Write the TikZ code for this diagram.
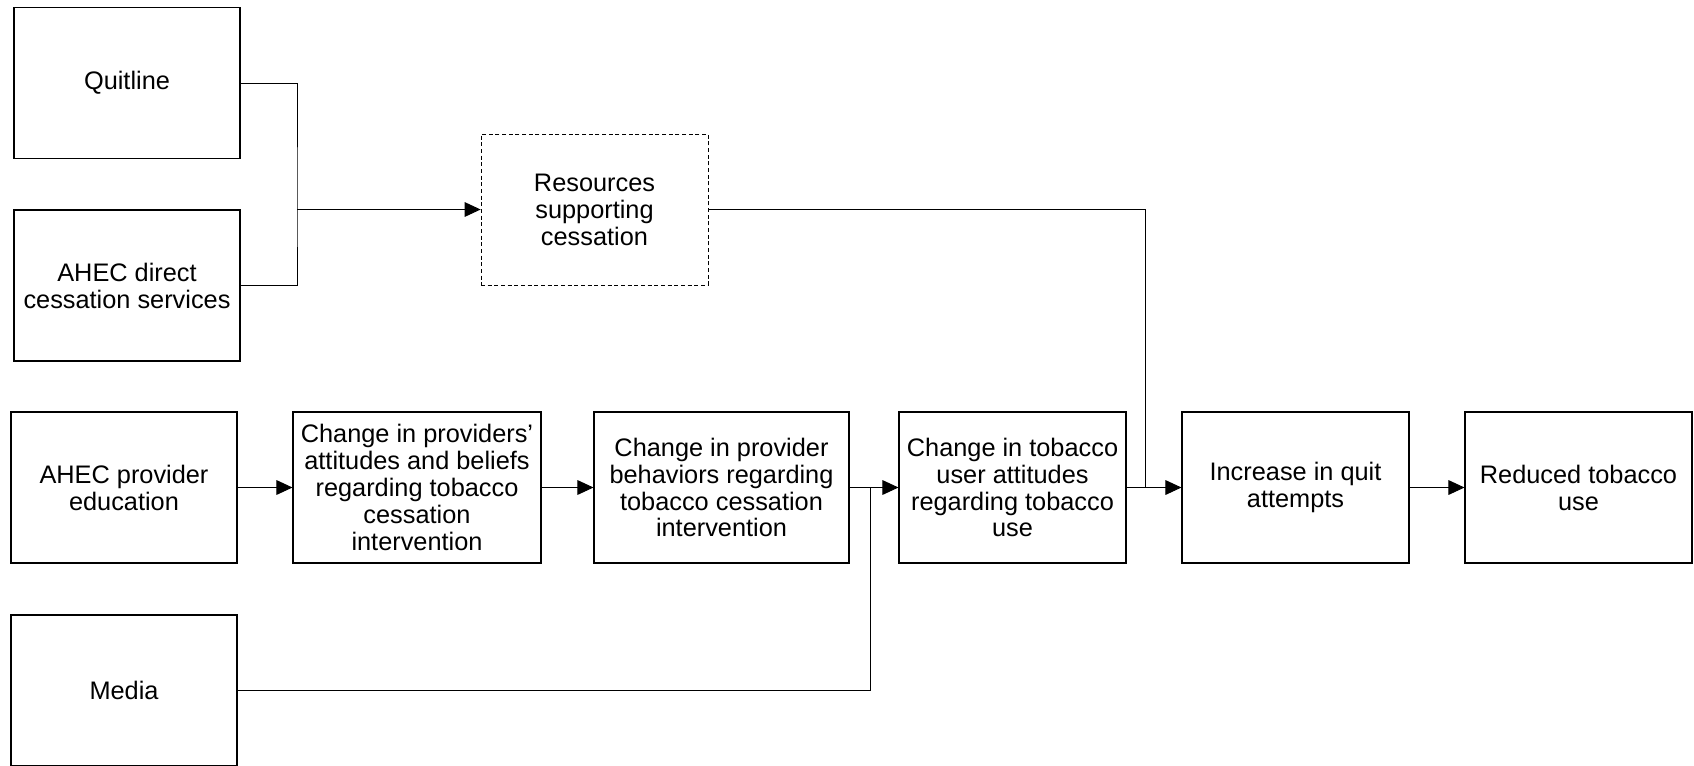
\documentclass[tikz,border=0pt]{standalone}
\usepackage{fontspec}
\setmainfont{Liberation Sans}
\usetikzlibrary{arrows.meta}
\tikzset{
	box/.style={draw,line width=0.8pt,align=center,inner sep=2pt,minimum width=#1*0.75pt,minimum height=151*0.75pt},
	box/.default=227,
	dbox/.style={box,dash pattern=on 3pt off 2pt,line width=0.6pt},
	link/.style={line width=0.75pt}
}
\begin{document}
\begin{tikzpicture}[>={Triangle[length=12pt,width=11pt]},x=0.75pt,y=-0.75pt,font=\fontsize{19}{20.2}\selectfont]
	\useasboundingbox (0,0) rectangle (1694,765);
	% sources
	\node[box=226] (quitline) at (127,83) {Quitline};
	\node[box=226] (direct) at (127,285.5) {AHEC direct\\cessation services};
	\node[dbox] (resources) at (594.5,209.5) {Resources\\supporting\\cessation};
	\node[box=226] (education) at (124,487.5) {AHEC provider\\education};
	\node[box=226] (media) at (124,690.5) {Media};
	% chain
	\node[box=248] (attitudes) at (417,487.5) {Change in providers’\\attitudes and beliefs\\regarding tobacco\\cessation\\intervention};
	\node[box=255] (behaviors) at (721.5,487.5) {Change in provider\\behaviors regarding\\tobacco cessation\\intervention};
	\node[box] (user) at (1012.5,487.5) {Change in tobacco\\user attitudes\\regarding tobacco\\use};
	\node[box] (attempts) at (1295.5,487.5) {Increase in quit\\attempts};
	\node[box] (reduced) at (1578.5,487.5) {Reduced tobacco\\use};
	% joins
	\coordinate (jq) at (297,209.5);
	\coordinate (jm) at (870,487.5);
	\coordinate (jr) at (1145,487.5);
	\draw[link] (quitline.east) -| (jq) |- (direct.east);
	\draw[link,->] (jq) -- (resources.west);
	\draw[link] (resources.east) -| (jr);
	\draw[link] (media.east) -| (jm);
	\draw[link,->] (education) -- (attitudes);
	\draw[link,->] (attitudes) -- (behaviors);
	\draw[link,->] (behaviors) -- (user);
	\draw[link,->] (user) -- (attempts);
	\draw[link,->] (attempts) -- (reduced);
\end{tikzpicture}
\end{document}
